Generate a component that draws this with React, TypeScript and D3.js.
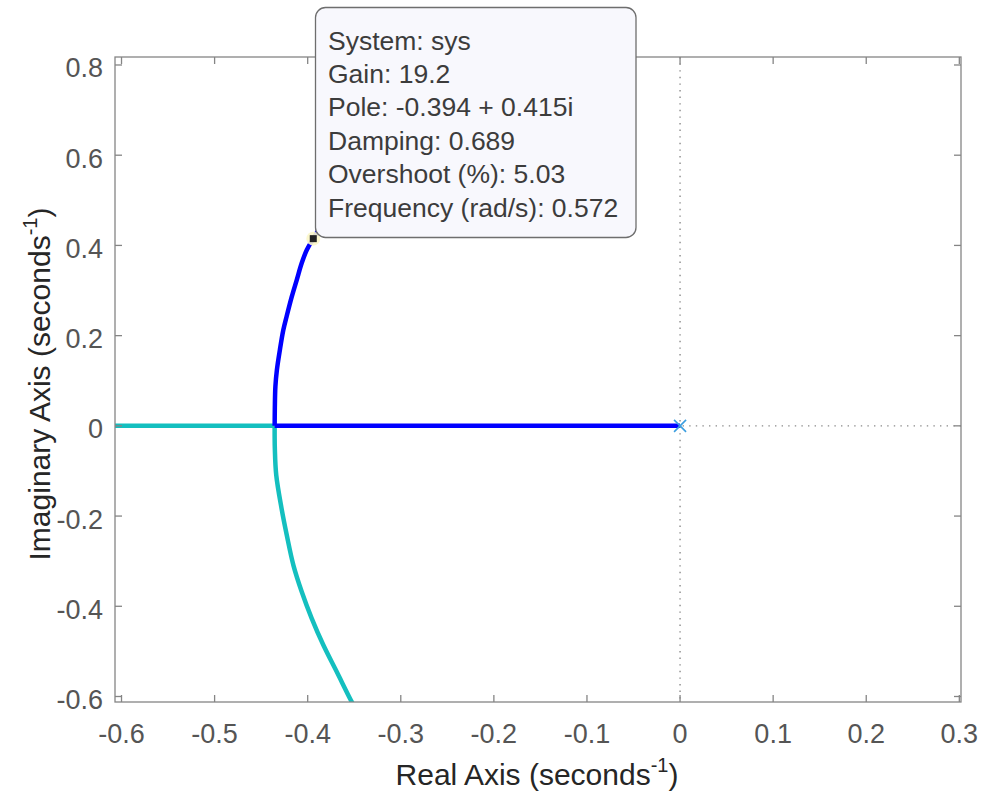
import React from 'react';
import * as d3 from 'd3';

const xTicks = [-0.6, -0.5, -0.4, -0.3, -0.2, -0.1, 0, 0.1, 0.2, 0.3];
const yTicks = [-0.6, -0.4, -0.2, 0, 0.2, 0.4, 0.6, 0.8];
const xDomain: [number, number] = [-0.607, 0.3018];
const yDomain: [number, number] = [-0.6122, 0.8177];

const breakaway = -0.4355;
// branch 1 (blue): pole at origin -> breakaway -> upper complex branch
const blueReal: [number, number][] = [[0, 0], [breakaway, 0]];
const blueUpper: [number, number][] = [
  [breakaway, 0], [-0.4353, 0.04], [-0.4347, 0.0867], [-0.4331, 0.1237], [-0.4299, 0.1681],
  [-0.4262, 0.2124], [-0.4227, 0.2419], [-0.4171, 0.2863], [-0.4118, 0.3233],
  [-0.4064, 0.361], [-0.401, 0.3898], [-0.394, 0.415], [-0.389, 0.432],
];
// branch 2 (cyan): from the left along the real axis -> breakaway -> lower complex branch
const cyanReal: [number, number][] = [[-0.63, 0], [breakaway, 0]];
const cyanLower: [number, number][] = [
  [breakaway, 0], [-0.4353, -0.05], [-0.4338, -0.1091], [-0.4281, -0.1829], [-0.4225, -0.2421],
  [-0.4154, -0.3086], [-0.4064, -0.3678], [-0.3957, -0.4268], [-0.3832, -0.486],
  [-0.3688, -0.5452], [-0.3527, -0.6118], [-0.349, -0.625],
];
const poles: [number, number][] = [[0, 0]];
const datatip: [number, number] = [-0.394, 0.415];
const tipLines = [
  'System: sys',
  'Gain: 19.2',
  'Pole: -0.394 + 0.415i',
  'Damping: 0.689',
  'Overshoot (%): 5.03',
  'Frequency (rad/s): 0.572',
];

const W = 981, H = 791;
const L = 115, R = 961, T = 57, B = 702;
const FONT = '"Liberation Sans", Arial, Helvetica, sans-serif';

export default function App() {
  const x = d3.scaleLinear().domain(xDomain).range([L, R]);
  const y = d3.scaleLinear().domain(yDomain).range([B, T]);
  const line = d3.line<[number, number]>().x(d => x(d[0])).y(d => y(d[1]));
  const smooth = d3.line<[number, number]>().x(d => x(d[0])).y(d => y(d[1])).curve(d3.curveCatmullRom.alpha(0.5));
  const fmt = (v: number) => (Math.abs(v) < 1e-9 ? '0' : v.toFixed(1));
  const tickLen = 7;
  const axisColor = '#858585';
  const tickTextColor = '#555555';
  const [px, py] = [x(poles[0][0]), y(poles[0][1])];
  const [mx, my] = [x(datatip[0]), y(datatip[1])];

  return (
    <svg width={W} height={H} style={{ position: 'absolute', left: 0, top: 0, background: '#fff' }}
      fontFamily={FONT}>
      <defs>
        <clipPath id="plotClip">
          <rect x={L} y={T} width={R - L} height={B - T} />
        </clipPath>
      </defs>
      <rect x={0} y={0} width={W} height={H} fill="#fff" />
      {/* zero lines */}
      <g stroke="#8a8a8a" strokeWidth={1.4} strokeDasharray="1.4,5.2" fill="none">
        <line x1={x(0)} x2={x(0)} y1={T} y2={B} />
        <line x1={L} x2={R} y1={y(0)} y2={y(0)} />
      </g>
      {/* locus */}
      <g clipPath="url(#plotClip)" fill="none" strokeWidth={4.5} strokeLinejoin="round" strokeLinecap="butt">
        <path d={line(cyanReal) || ''} stroke="#14bfbf" />
        <path d={smooth(cyanLower) || ''} stroke="#14bfbf" />
        <path d={line(blueReal) || ''} stroke="#0000ff" />
        <path d={smooth(blueUpper) || ''} stroke="#0000ff" />
      </g>
      {/* pole marker */}
      <g stroke="#3b9ee0" strokeWidth={1.6}>
        <line x1={px - 6} y1={py - 6} x2={px + 6} y2={py + 6} />
        <line x1={px - 6} y1={py + 6} x2={px + 6} y2={py - 6} />
      </g>
      {/* axes box */}
      <rect x={L} y={T} width={R - L} height={B - T} fill="none" stroke={axisColor} strokeWidth={1.3} />
      <g stroke={axisColor} strokeWidth={1.3}>
        {xTicks.map(v => (
          <g key={'xt' + v}>
            <line x1={x(v)} x2={x(v)} y1={B} y2={B - tickLen} />
            <line x1={x(v)} x2={x(v)} y1={T} y2={T + tickLen} />
          </g>
        ))}
        {yTicks.map(v => (
          <g key={'yt' + v}>
            <line x1={L} x2={L + tickLen} y1={y(v)} y2={y(v)} />
            <line x1={R} x2={R - tickLen} y1={y(v)} y2={y(v)} />
          </g>
        ))}
      </g>
      <g fill={tickTextColor} fontSize={27}>
        {xTicks.map(v => (
          <text key={'xl' + v} x={x(v)} y={743} textAnchor="middle">{fmt(v)}</text>
        ))}
        {yTicks.map(v => (
          <text key={'yl' + v} x={103} y={y(v) + 12.5} textAnchor="end">{fmt(v)}</text>
        ))}
      </g>
      {/* axis labels */}
      <text x={537} y={785} textAnchor="middle" fontSize={30} fill="#262626">
        Real Axis (seconds<tspan fontSize={20} dy={-13}>-1</tspan><tspan dy={13}>)</tspan>
      </text>
      <text transform="translate(50,384) rotate(-90)" textAnchor="middle" fontSize={30} fill="#262626">
        Imaginary Axis (seconds<tspan fontSize={20} dy={-13}>-1</tspan><tspan dy={13}>)</tspan>
      </text>
      {/* datatip */}
      <circle cx={mx} cy={my} r={7} fill="#fbf6c8" opacity={0.9} />
      <rect x={mx - 3.5} y={my - 3.5} width={7} height={7} fill="#222" />
      <rect x={315.5} y={7.5} width={320.5} height={230} rx={10} ry={10}
        fill="#f8f8fd" stroke="#6e6e6e" strokeWidth={1.3} />
      <g fontSize={26.5} fill="#3c3c3c">
        {tipLines.map((t, i) => (
          <text key={t} x={328} y={49.5 + i * 33.4}>{t}</text>
        ))}
      </g>
    </svg>
  );
}
